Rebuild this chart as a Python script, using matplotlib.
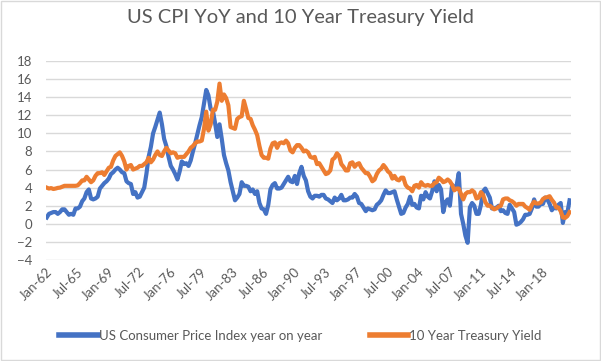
import numpy as np
import pandas as pd
import matplotlib
matplotlib.use('Agg')
import matplotlib.pyplot as plt
import matplotlib.dates as mdates
from matplotlib.patches import Rectangle

# Quarterly readings (mid-quarter), Q1 1962 .. Q1 2021
cpi_yoy = [
    0.7, 1.1, 1.2, 1.3,   1.3, 1.1, 1.3, 1.6,   1.6, 1.3, 1.0, 1.1,   1.0, 1.7, 1.7, 1.9,
    2.5, 2.8, 3.5, 3.8,   2.8, 2.7, 2.8, 3.0,   3.9, 4.2, 4.5, 4.7,   5.0, 5.5, 5.7, 6.0,
    6.2, 6.0, 5.7, 5.6,   4.7, 4.5, 4.4, 3.3,   3.5, 2.9, 3.0, 3.5,   4.0, 5.5, 7.4, 8.5,
    10.0, 10.7, 11.5, 12.3, 11.0, 9.4, 8.6, 7.4, 6.4, 6.0, 5.5, 4.9,  5.8, 6.9, 6.6, 6.7,
    6.4, 7.0, 8.0, 8.9,   9.9, 10.9, 11.8, 13.3, 14.8, 14.2, 12.7, 12.5, 11.1, 9.6, 11.0, 9.4,
    7.6, 6.7, 5.9, 4.6,   3.6, 2.6, 2.9, 3.3,   4.6, 4.2, 4.2, 4.1,   3.6, 3.8, 3.3, 3.6,
    2.3, 1.7, 1.6, 1.1,   2.1, 3.8, 4.3, 4.5,   3.9, 3.9, 4.0, 4.4,   4.8, 5.2, 4.7, 4.6,
    5.3, 4.4, 5.6, 6.3,   5.3, 4.8, 3.6, 3.0,   2.8, 3.1, 3.1, 3.0,   3.2, 3.2, 2.8, 2.7,
    2.5, 2.3, 2.9, 2.6,   2.8, 3.2, 2.6, 2.6,   2.7, 2.9, 2.9, 3.3,   3.0, 2.3, 2.2, 1.8,
    1.4, 1.7, 1.6, 1.5,   1.6, 2.1, 2.3, 2.6,   3.2, 3.7, 3.4, 3.4,   3.5, 3.6, 2.7, 1.9,
    1.1, 1.2, 1.8, 2.2,   3.0, 2.1, 2.2, 1.8,   1.7, 3.1, 2.7, 3.5,   3.0, 2.8, 3.6, 4.7,
    3.6, 4.3, 3.8, 1.3,   2.4, 2.7, 2.0, 4.3,   4.0, 4.2, 5.6, 1.1,   0.0, -1.3, -2.1, 1.8,
    2.3, 2.0, 1.1, 1.1,   2.1, 3.6, 3.9, 3.4,   2.9, 1.7, 1.7, 1.8,   2.0, 1.4, 1.5, 1.2,
    1.1, 2.1, 1.7, 1.3,   -0.1, 0.0, 0.2, 0.5,  1.0, 1.0, 1.1, 1.7,   2.7, 1.9, 1.9, 2.2,
    2.2, 2.9, 2.7, 2.2,   1.5, 1.8, 1.7, 2.1,   2.3, 0.1, 1.3, 1.2,   2.6,
]
treasury_10y = [
    4.0, 3.9, 3.95, 3.85,  3.9, 3.97, 4.0, 4.1,  4.2, 4.2, 4.2, 4.2,   4.2, 4.2, 4.25, 4.5,
    4.8, 4.8, 5.2, 4.9,   4.6, 4.8, 5.3, 5.6,   5.6, 5.7, 5.4, 5.8,   6.2, 6.3, 7.0, 7.5,
    7.7, 7.9, 7.5, 6.9,   6.0, 6.4, 6.5, 6.0,   6.1, 6.2, 6.4, 6.4,   6.6, 6.8, 7.3, 6.8,
    7.1, 7.6, 8.0, 7.6,   7.5, 8.0, 8.4, 8.1,   7.8, 7.9, 7.8, 7.3,   7.4, 7.4, 7.4, 7.7,
    8.0, 8.4, 8.6, 8.9,   9.1, 9.1, 9.2, 10.5,  12.4, 10.3, 11.0, 12.6, 12.6, 13.5, 15.5, 13.6,
    14.3, 13.9, 13.1, 10.7, 10.6, 10.5, 11.6, 11.8, 11.9, 13.6, 12.7, 11.7, 11.6, 10.9, 10.4, 9.8,
    8.6, 7.6, 7.3, 7.3,   7.2, 8.3, 8.9, 9.0,   8.4, 8.9, 9.0, 8.9,   9.2, 8.9, 8.1, 7.9,
    8.4, 8.7, 8.7, 8.4,   8.0, 8.1, 7.9, 7.4,   7.3, 7.4, 6.6, 6.7,   6.3, 5.9, 5.5, 5.6,
    5.9, 7.1, 7.3, 7.8,   7.5, 6.6, 6.3, 5.9,   5.9, 6.7, 6.8, 6.3,   6.6, 6.7, 6.2, 5.9,
    5.6, 5.6, 5.2, 4.7,   4.9, 5.5, 5.9, 6.1,   6.5, 6.2, 5.8, 5.6,   5.0, 5.3, 4.9, 4.8,
    5.1, 5.1, 4.3, 4.0,   3.9, 3.6, 4.2, 4.3,   4.0, 4.6, 4.3, 4.2,   4.3, 4.2, 4.2, 4.5,
    4.6, 5.1, 4.9, 4.6,   4.7, 4.9, 4.7, 4.3,   3.7, 3.9, 3.9, 3.3,   2.7, 3.3, 3.5, 3.5,
    3.7, 3.5, 2.8, 2.9,   3.5, 3.2, 2.4, 2.0,   2.0, 1.8, 1.6, 1.7,   1.9, 2.0, 2.7, 2.8,
    2.8, 2.6, 2.5, 2.3,   2.0, 2.2, 2.2, 2.2,   1.9, 1.75, 1.55, 2.1, 2.45, 2.25, 2.25, 2.35,
    2.75, 2.9, 2.95, 3.05, 2.65, 2.35, 1.8, 1.8, 1.4, 0.7, 0.65, 0.85, 1.3,
]
dates = pd.date_range('1962-02-01', periods=len(cpi_yoy), freq='3MS')
tick_dates = pd.date_range('1962-01-01', '2018-01-01', freq='42MS')

BLUE = '#4472C4'
ORANGE = '#ED7D31'
TEXT = '#595959'
GRID = '#D9D9D9'

plt.rcParams['font.family'] = ['Lato', 'DejaVu Sans']

fig = plt.figure(figsize=(6.01, 3.61), dpi=100)
ax = fig.add_axes([46 / 601, 1 - 260 / 361, 525 / 601, 199 / 361])

ax.plot(dates, cpi_yoy, color=BLUE, lw=3, label='US Consumer Price Index year on year',
        solid_joinstyle='round')
ax.plot(dates, treasury_10y, color=ORANGE, lw=3, label='10 Year Treasury Yield',
        solid_joinstyle='round')

ax.set_ylim(-4, 18)
ax.set_yticks(np.arange(-4, 19, 2))
ax.set_xlim(pd.Timestamp('1962-01-01'), pd.Timestamp('2021-04-01'))
ax.set_xticks(tick_dates)
ax.xaxis.set_major_formatter(mdates.DateFormatter('%b-%y'))
for lbl in ax.get_xticklabels():
    lbl.set_rotation(45)
    lbl.set_ha('right')
    lbl.set_rotation_mode('anchor')

ax.grid(axis='y', color=GRID, lw=1)
ax.set_axisbelow(True)
for s in ax.spines.values():
    s.set_visible(False)
ax.tick_params(length=0, colors=TEXT, labelsize=9.5)
ax.tick_params(axis='y', pad=10)
ax.tick_params(axis='x', pad=4)

fig.suptitle('US CPI YoY and 10 Year Treasury Yield', x=0.5, y=0.975, va='top',
             fontsize=14.5, color=TEXT)

fig.legend(loc='center', bbox_to_anchor=(0.5, 1 - 336 / 361), ncol=2, frameon=False,
           fontsize=9.5, labelcolor=TEXT, handlelength=2.9, handletextpad=0.1,
           columnspacing=3.6)
for line in fig.legends[0].get_lines():
    line.set_linewidth(4)

fig.patches.append(Rectangle((0.001, 0.002), 0.997, 0.996, transform=fig.transFigure,
                             fill=False, edgecolor=GRID, lw=1))

fig.savefig('out.png', dpi=100)
